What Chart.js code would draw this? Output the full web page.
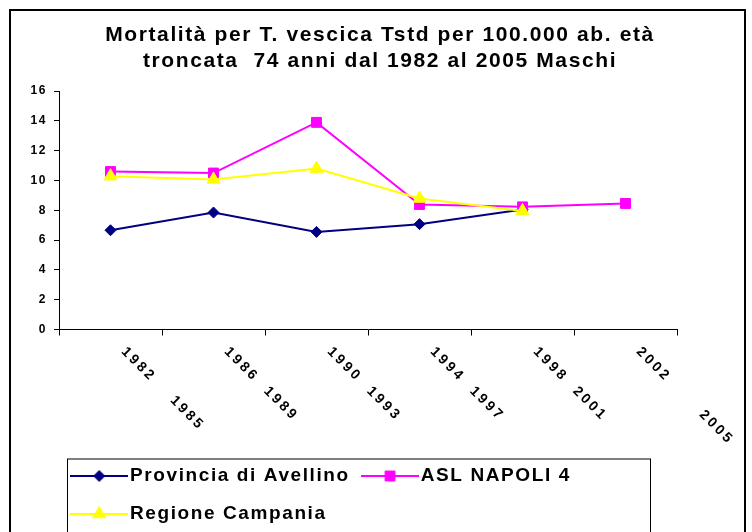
<!DOCTYPE html>
<html>
<head>
<meta charset="utf-8">
<title>Mortalità per T. vescica</title>
<script src="https://cdn.jsdelivr.net/npm/chart.js@4.4.1/dist/chart.umd.min.js"></script>
<style>
  html, body { margin: 0; padding: 0; background: #fff; }
  canvas { display: block; }
</style>
</head>
<body>
<canvas id="mortalita" width="752" height="532"></canvas>
<script>
const periodi = ['1982    1985', '1986  1989', '1990  1993', '1994  1997', '1998  2001', '2002       2005'];
const avellino = [6.66, 7.85, 6.55, 7.07, 8.05, null];
const napoli4 = [10.6, 10.5, 13.9, 8.39, 8.23, 8.46];
const campania = [10.29, 10.07, 10.8, 8.79, 7.96, null];
const yTicks = [0, 2, 4, 6, 8, 10, 12, 14, 16];
const titolo = ['Mortalità per T. vescica Tstd per 100.000 ab. età', 'troncata  74 anni dal 1982 al 2005 Maschi'];

const FONT = "'Liberation Sans', Arial, sans-serif";
Chart.defaults.font.family = FONT;
Chart.defaults.color = '#000';

// order: Regione on top, Avellino underneath
const serie = [
    { label: 'Provincia di Avellino', data: avellino, color: '#000080', style: 'rectRot', radius: 5.5, order: 3 },
    { label: 'ASL NAPOLI 4', data: napoli4, color: '#ff00ff', style: 'rect', radius: 7, order: 2 },
    { label: 'Regione Campania', data: campania, color: '#ffff00', style: 'triangle', radius: 7.5, order: 1 }
];

// small line + marker sample for the legend
function glifo(s) {
    const c = document.createElement('canvas');
    c.width = 58;
    c.height = 16;
    const g = c.getContext('2d');
    g.strokeStyle = s.color;
    g.fillStyle = s.color;
    g.lineWidth = 2;
    g.beginPath();
    g.moveTo(0, 8);
    g.lineTo(58, 8);
    g.stroke();
    g.lineWidth = 1;
    Chart.helpers.drawPoint(g, { pointStyle: s.style, radius: s.radius, borderWidth: 1, rotation: 0 }, 29, 8);
    return c;
}
const glifi = serie.map(glifo);

// white page, outer frame and the box round the legend
const sfondo = {
    id: 'sfondo',
    beforeLayout(chart) {
        chart.ctx.letterSpacing = '1.6px';
    },
    beforeDraw(chart) {
        const ctx = chart.ctx;
        ctx.letterSpacing = '1.6px';
        ctx.save();
        ctx.fillStyle = '#fff';
        ctx.fillRect(0, 0, chart.width, chart.height);
        ctx.strokeStyle = '#000';
        ctx.lineWidth = 2;
        ctx.strokeRect(10, 10, 735, chart.height + 20);
        const lg = chart.legend;
        ctx.lineWidth = 1;
        ctx.strokeRect(lg.left + 8.5, lg.top + 11.5, 583, lg.height + 20);
        ctx.restore();
    }
};

// period labels, slanted downwards under each category
const etichetteX = {
    id: 'etichetteX',
    afterDraw(chart) {
        const xs = chart.scales.x;
        const ctx = chart.ctx;
        ctx.save();
        ctx.font = 'bold 14px ' + FONT;
        ctx.letterSpacing = '2.8px';
        ctx.fillStyle = '#000';
        ctx.textAlign = 'left';
        ctx.textBaseline = 'middle';
        xs.getLabels().forEach((lab, i) => {
            ctx.save();
            ctx.translate(xs.getPixelForValue(i) + 13, xs.top + 20);
            ctx.rotate(Math.PI / 4);
            ctx.fillText(lab, 0, 0);
            ctx.restore();
        });
        ctx.restore();
    }
};

new Chart(document.getElementById('mortalita'), {
    type: 'line',
    data: {
        labels: periodi,
        datasets: serie.map(s => ({
            label: s.label,
            data: s.data,
            order: s.order,
            borderColor: s.color,
            backgroundColor: s.color,
            borderWidth: 2,
            pointStyle: s.style,
            pointRadius: s.radius,
            pointHoverRadius: s.radius,
            pointBorderWidth: 1,
            pointBackgroundColor: s.color,
            pointBorderColor: s.color,
            tension: 0
        }))
    },
    options: {
        responsive: false,
        animation: false,
        devicePixelRatio: 1,
        layout: { padding: { left: 20, right: 12, top: 10, bottom: -1.5 } },
        scales: {
            x: {
                offset: true,
                grid: { offset: true, drawOnChartArea: false, color: '#000', tickLength: 6 },
                border: { color: '#000' },
                ticks: { display: false },
                afterFit(s) {
                    s.height = 118;
                    s.paddingRight = 75;
                }
            },
            y: {
                min: 0,
                max: 16,
                afterBuildTicks(s) {
                    s.ticks = yTicks.map(v => ({ value: v }));
                },
                ticks: { font: { size: 12, weight: 'bold' }, padding: 7 },
                grid: { drawOnChartArea: false, color: '#000', tickLength: 5 },
                border: { color: '#000' },
                afterFit(s) {
                    s.width = 39;
                }
            }
        },
        plugins: {
            title: {
                display: true,
                text: titolo,
                color: '#000',
                font: { size: 21, weight: 'bold', lineHeight: 1.24 },
                padding: { top: 12, bottom: 17 }
            },
            legend: {
                position: 'bottom',
                align: 'start',
                fullSize: false,
                labels: {
                    color: '#000',
                    font: { size: 19, weight: 'bold' },
                    padding: 19,
                    usePointStyle: true,
                    pointStyleWidth: 42.5,
                    sort: (a, b) => a.datasetIndex - b.datasetIndex,
                    generateLabels(chart) {
                        return Chart.defaults.plugins.legend.labels.generateLabels(chart)
                            .map(it => Object.assign(it, { pointStyle: glifi[it.datasetIndex] }));
                    }
                }
            },
            tooltip: { enabled: false }
        }
    },
    plugins: [sfondo, etichetteX]
});
</script>
</body>
</html>
